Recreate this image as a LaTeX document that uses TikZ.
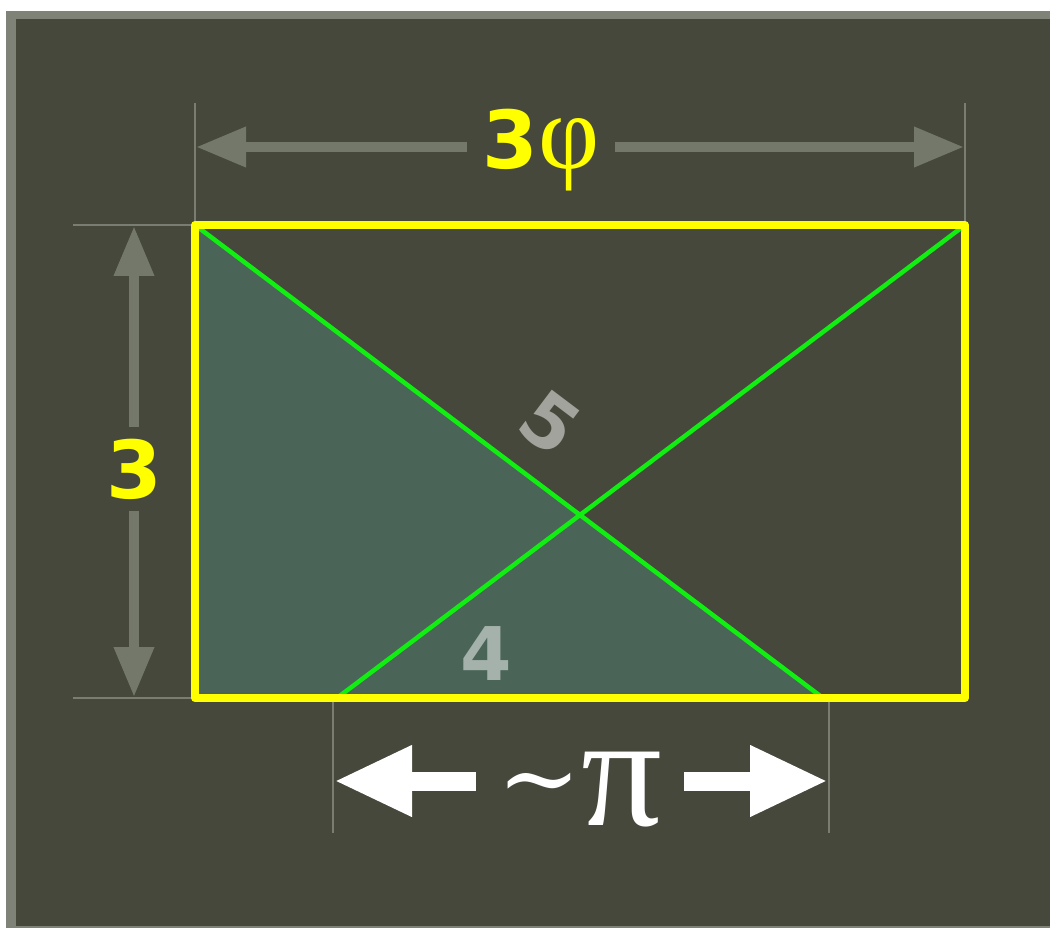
\documentclass[tikz,border=0pt]{standalone}
\usepackage{fontspec}
\usetikzlibrary{arrows.meta}
\newfontfamily\numfont{DejaVu Sans}
\newfontfamily\symfont{DejaVu Serif}
\newfontfamily\greekfont{Liberation Serif}
\definecolor{board}{HTML}{45483A}
\definecolor{rim}{HTML}{7F8276}
\definecolor{dim}{HTML}{73786A}
\definecolor{guide}{HTML}{7A7E72}
\definecolor{wedge}{HTML}{4A6558}
\definecolor{edge}{HTML}{FFFF00}
\definecolor{diag}{HTML}{11EE11}
\tikzset{
  guideline/.style={guide,line width=2.5pt},
  dimarrow/.style={{Triangle[length=50pt,width=38pt]}-{Triangle[length=50pt,width=38pt]},dim,line width=10pt},
  piarrow/.style={{Triangle[length=78pt,width=66pt]}-{Triangle[length=78pt,width=66pt]},white,line width=19pt},
  measure/.style={fill=board,inner sep=12pt,anchor=base,text=edge,font=\numfont\bfseries\fontsize{80}{80}\selectfont},
  side/.style={inner sep=0pt,text=white,text opacity=0.5,font=\numfont\bfseries\fontsize{74}{74}\selectfont},
}

\begin{document}
\begin{tikzpicture}[x=1pt,y=-1pt]
\useasboundingbox (0,0) rectangle (1050,928);
\fill[rim] (6,11) rectangle (1050,928);
\fill[board] (16,19) rectangle (1050,926);

% rectangle 3phi x 3 and its diagonals
\coordinate (A) at (195,225);
\coordinate (B) at (965,225);
\coordinate (C) at (965,698);
\coordinate (D) at (195,698);
\coordinate (P) at (337,698);
\coordinate (Q) at (823,698);
\fill[wedge] (A) -- (Q) -- (D) -- cycle;
\draw[diag,line width=4.5pt] (A) -- (Q);
\draw[diag,line width=4.5pt] (B) -- (P);

% extension lines
\coordinate (A1) at (195,103);
\coordinate (B1) at (965,103);
\coordinate (A2) at (73,225);
\coordinate (D2) at (73,698);
\coordinate (P1) at (333,700);
\coordinate (P2) at (333,833);
\coordinate (Q1) at (829,700);
\coordinate (Q2) at (829,833);
\draw[guideline] (A1) -- (A);
\draw[guideline] (B1) -- (B);
\draw[guideline] (A2) -- (A);
\draw[guideline] (D2) -- (D);
\draw[guideline] (P1) -- (P2);
\draw[guideline] (Q1) -- (Q2);

\draw[edge,line width=8pt,line join=round] (A) -- (B) -- (C) -- (D) -- cycle;

% dimensions
\coordinate (tl) at (196,147);
\coordinate (tr) at (964,147);
\coordinate (lt) at (134,226);
\coordinate (lb) at (134,697);
\coordinate (bl) at (334,781);
\coordinate (br) at (828,781);
\draw[dimarrow] (tl) -- (tr);
\draw[dimarrow] (lt) -- (lb);
\draw[piarrow] (bl) -- (br);

\node[measure,inner xsep=16pt] (width) at (541,169) {3{\mdseries\greekfont\fontsize{106}{106}\selectfont φ}};
\node[measure] (height) at (134,498) {3};
\node[measure,inner xsep=22pt,inner ysep=2pt,text=white,font=\symfont\fontsize{100}{100}\selectfont] (base) at (580,812) {\char"223C\raisebox{-13pt}{\greekfont\fontsize{160}{160}\selectfont π}};

\node[side,rotate=-37] (hyp) at (550,423) {5};
\node[side,anchor=base] (leg) at (486,680) {4};
\end{tikzpicture}
\end{document}
